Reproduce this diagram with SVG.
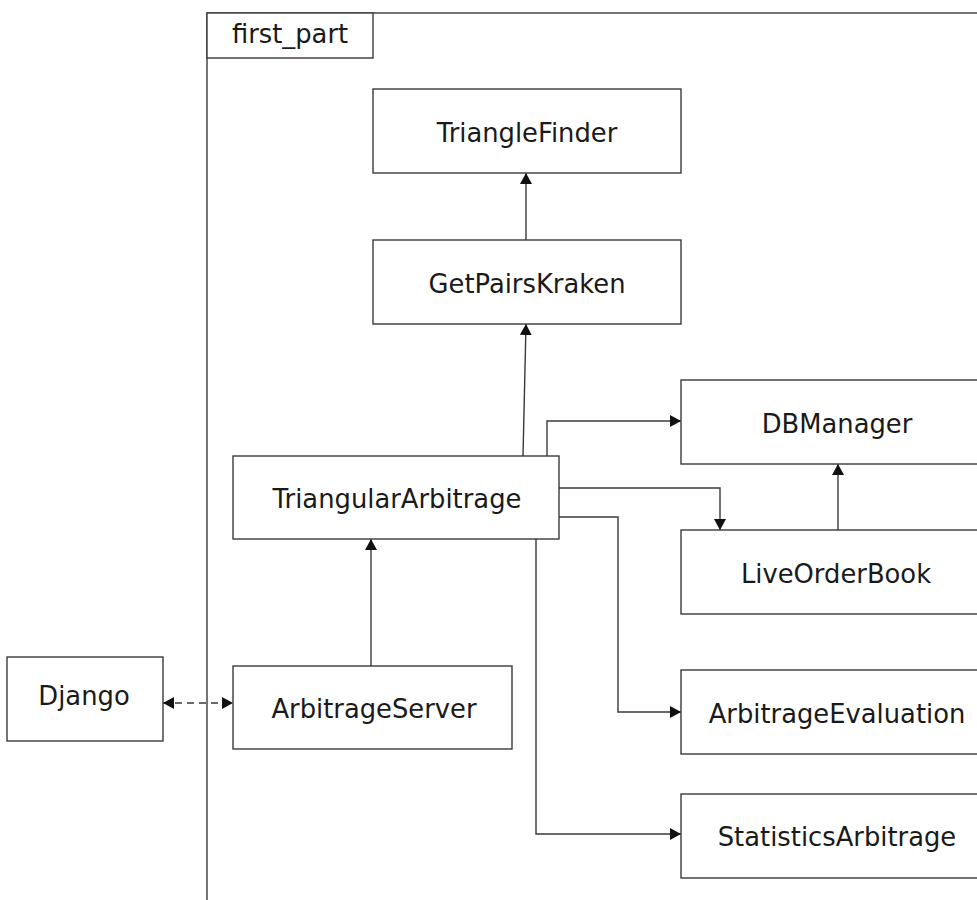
<svg xmlns="http://www.w3.org/2000/svg" width="977" height="900" viewBox="0 0 977 900">
<style>
  .box { fill: #ffffff; stroke: #3a3a3a; stroke-width: 1.4; }
  .frame { fill: none; stroke: #3a3a3a; stroke-width: 1.4; }
  .lbl { font-family: "DejaVu Sans", sans-serif; font-size: 25.8px; fill: #1a1a1a; text-anchor: middle; }
  .edge { fill: none; stroke: #3a3a3a; stroke-width: 1.4; }
  .dash { stroke-dasharray: 7 5; }
</style>
<defs>
  <marker id="arr" viewBox="0 0 11 12" refX="11" refY="6" markerWidth="11" markerHeight="12" markerUnits="userSpaceOnUse" orient="auto">
    <path d="M0,0 L11,6 L0,12 Z" fill="#111"/>
  </marker>
  <marker id="arrS" viewBox="0 0 11 12" refX="11" refY="6" markerWidth="11" markerHeight="12" markerUnits="userSpaceOnUse" orient="auto-start-reverse">
    <path d="M0,0 L11,6 L0,12 Z" fill="#111"/>
  </marker>
</defs>
<rect width="977" height="900" fill="#ffffff"/>

<g id="first_part">
  <rect class="frame" x="207" y="13" width="820" height="950"/>
  <rect class="box" x="207" y="13" width="166" height="45"/>
  <text class="lbl" x="290" y="43">first_part</text>
</g>

<g id="connectors">
  <path class="edge" d="M526,240 L526,173" marker-end="url(#arr)"/>
  <path class="edge" d="M523,456 L526,324" marker-end="url(#arr)"/>
  <path class="edge" d="M547,456 L547,421 L681,421" marker-end="url(#arr)"/>
  <path class="edge" d="M559,488 L720,488 L720,530" marker-end="url(#arr)"/>
  <path class="edge" d="M559,517 L618,517 L618,712 L681,712" marker-end="url(#arr)"/>
  <path class="edge" d="M536,539 L536,834 L681,834" marker-end="url(#arr)"/>
  <path class="edge" d="M838,530 L838,464" marker-end="url(#arr)"/>
  <path class="edge" d="M371,666 L371,539" marker-end="url(#arr)"/>
  <path class="edge dash" d="M163,703 L233,703" marker-start="url(#arrS)" marker-end="url(#arr)"/>
</g>

<g id="TriangleFinder">
  <rect class="box" x="373" y="89" width="308" height="84"/>
  <text class="lbl" x="527" y="142">TriangleFinder</text>
</g>
<g id="GetPairsKraken">
  <rect class="box" x="373" y="240" width="308" height="84"/>
  <text class="lbl" x="527" y="293">GetPairsKraken</text>
</g>
<g id="TriangularArbitrage">
  <rect class="box" x="233" y="456" width="326" height="83"/>
  <text class="lbl" x="397" y="508">TriangularArbitrage</text>
</g>
<g id="ArbitrageServer">
  <rect class="box" x="233" y="666" width="279" height="83"/>
  <text class="lbl" x="374" y="718">ArbitrageServer</text>
</g>
<g id="Django">
  <rect class="box" x="7" y="657" width="156" height="84"/>
  <text class="lbl" x="84" y="705">Django</text>
</g>
<g id="DBManager">
  <rect class="box" x="681" y="380" width="312" height="84"/>
  <text class="lbl" x="837" y="433">DBManager</text>
</g>
<g id="LiveOrderBook">
  <rect class="box" x="681" y="530" width="312" height="84"/>
  <text class="lbl" x="836" y="583">LiveOrderBook</text>
</g>
<g id="ArbitrageEvaluation">
  <rect class="box" x="681" y="670" width="312" height="84"/>
  <text class="lbl" x="837" y="723">ArbitrageEvaluation</text>
</g>
<g id="StatisticsArbitrage">
  <rect class="box" x="681" y="794" width="312" height="84"/>
  <text class="lbl" x="837" y="846">StatisticsArbitrage</text>
</g>
</svg>
